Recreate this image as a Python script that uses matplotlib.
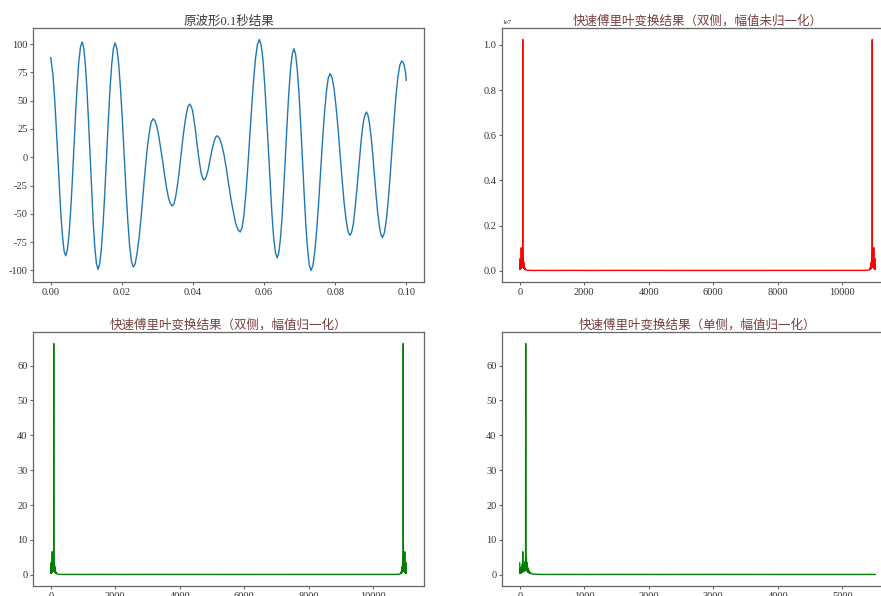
import matplotlib
matplotlib.use('Agg')
import matplotlib.pyplot as plt
from matplotlib.ticker import MultipleLocator
import numpy as np

plt.rcParams['font.family'] = ['Liberation Serif', 'Noto Sans CJK SC']
plt.rcParams['axes.unicode_minus'] = False
plt.rcParams['axes.edgecolor'] = '#666666'
plt.rcParams['axes.linewidth'] = 0.9
for ax_name in ('xtick', 'ytick'):
    plt.rcParams[f'{ax_name}.color'] = '#666666'
    plt.rcParams[f'{ax_name}.labelcolor'] = '#333333'
    plt.rcParams[f'{ax_name}.labelsize'] = 7.5
    plt.rcParams[f'{ax_name}.major.size'] = 2.5
    plt.rcParams[f'{ax_name}.major.pad'] = 1.5

FS = 11025          # sampling rate (Hz)
N_SAMPLES = 154350  # samples in the whole recording

# first 0.1 s of the waveform
WAVE_T = [
    0.0, 0.0006, 0.00105, 0.0015, 0.00195, 0.0024, 0.00285, 0.0033, 0.00375, 0.0042,
    0.00466, 0.00512, 0.00558, 0.00604, 0.0065, 0.00696, 0.00742, 0.00788, 0.00834, 0.0088,
    0.00925, 0.0097, 0.01015, 0.0106, 0.01105, 0.0115, 0.01195, 0.0124, 0.01285, 0.0133,
    0.01378, 0.01426, 0.01474, 0.01522, 0.0157, 0.01618, 0.01666, 0.01714, 0.01762, 0.0181,
    0.01861, 0.01912, 0.01963, 0.02014, 0.02065, 0.02116, 0.02167, 0.02218, 0.02269, 0.0232,
    0.02376, 0.02432, 0.02488, 0.02544, 0.026, 0.02656, 0.02712, 0.02768, 0.02824, 0.0288,
    0.02934, 0.02988, 0.03042, 0.03096, 0.0315, 0.03204, 0.03258, 0.03312, 0.03366, 0.0342,
    0.03469, 0.03518, 0.03567, 0.03616, 0.03665, 0.03714, 0.03763, 0.03812, 0.03861, 0.0391,
    0.0395, 0.0399, 0.0403, 0.0407, 0.0411, 0.0415, 0.0419, 0.0423, 0.0427, 0.0431,
    0.04347, 0.04384, 0.04421, 0.04458, 0.04495, 0.04532, 0.04569, 0.04606, 0.04643, 0.0468,
    0.04745, 0.0481, 0.04875, 0.0494, 0.05005, 0.0507, 0.05135, 0.052, 0.05265, 0.0533,
    0.05384, 0.05438, 0.05492, 0.05546, 0.056, 0.05654, 0.05708, 0.05762, 0.05816, 0.0587,
    0.0592, 0.0597, 0.0602, 0.0607, 0.0612, 0.0617, 0.0622, 0.0627, 0.0632, 0.0637,
    0.06417, 0.06464, 0.06511, 0.06558, 0.06605, 0.06652, 0.06699, 0.06746, 0.06793, 0.0684,
    0.06888, 0.06936, 0.06984, 0.07032, 0.0708, 0.07128, 0.07176, 0.07224, 0.07272, 0.0732,
    0.07374, 0.07428, 0.07482, 0.07536, 0.0759, 0.07644, 0.07698, 0.07752, 0.07806, 0.0786,
    0.07916, 0.07972, 0.08028, 0.08084, 0.0814, 0.08196, 0.08252, 0.08308, 0.08364, 0.0842,
    0.08466, 0.08512, 0.08558, 0.08604, 0.0865, 0.08696, 0.08742, 0.08788, 0.08834, 0.0888,
    0.08925, 0.0897, 0.09015, 0.0906, 0.09105, 0.0915, 0.09195, 0.0924, 0.09285, 0.0933,
    0.09384, 0.09438, 0.09492, 0.09546, 0.096, 0.09654, 0.09708, 0.09762, 0.09816, 0.0987,
    0.0991, 0.0995, 0.0998, 0.1,
]
WAVE_V = [
    88, 73, 54, 29, 2, -26, -51, -70, -83, -87,
    -82, -69, -48, -22, 8, 37, 63, 84, 97, 102,
    97, 83, 61, 33, 2, -30, -58, -80, -94, -99,
    -94, -80, -58, -30, 1, 32, 60, 82, 96, 101,
    96, 82, 60, 33, 2, -29, -56, -78, -92, -97,
    -94, -84, -70, -52, -31, -11, 7, 21, 31, 34,
    32, 27, 18, 7, -4, -16, -27, -36, -41, -43,
    -41, -34, -24, -12, 2, 16, 28, 38, 45, 47,
    45, 41, 33, 24, 13, 3, -6, -14, -18, -20,
    -19, -16, -12, -6, 0, 6, 11, 15, 18, 19,
    17, 11, 2, -10, -24, -37, -48, -58, -64, -66,
    -62, -50, -31, -7, 19, 45, 69, 88, 100, 104,
    99, 86, 64, 37, 8, -22, -49, -71, -84, -89,
    -84, -71, -51, -25, 4, 32, 58, 78, 91, 96,
    91, 77, 56, 28, -2, -32, -60, -81, -95, -100,
    -96, -83, -64, -40, -13, 14, 38, 57, 70, 74,
    70, 60, 44, 25, 2, -20, -40, -55, -66, -69,
    -66, -59, -46, -31, -14, 2, 18, 30, 37, 40,
    37, 29, 17, 2, -16, -33, -48, -60, -68, -71,
    -67, -56, -39, -17, 7, 31, 53, 70, 81, 85,
    84, 80, 75, 68,
]

# positive-frequency spectrum, magnitude divided by N
SPEC_F = [
    0, 2, 4, 7, 10, 13, 16, 19, 22, 25, 28, 31, 34, 37, 40, 43, 46, 49, 52, 55,
    58, 61, 64, 67, 70, 73, 76, 79, 82, 85, 88, 90, 92, 94, 96, 99, 102, 105, 108, 111,
    114, 117, 120, 124, 128, 132, 136, 140, 145, 150, 156, 163, 170, 180, 195, 215, 250, 320, 450, 700,
    1000, 1500, 2200, 3000, 4000, 5000, 5512,
]
SPEC_A = [
    3.4, 0.5, 1.6, 0.4, 1.9, 0.6, 1.3, 0.5, 2.0, 0.7, 1.5, 0.6, 2.3, 0.8, 3.0, 1.0, 6.6, 1.1, 2.8, 0.9,
    2.2, 1.0, 3.1, 1.2, 2.4, 1.0, 2.9, 1.3, 3.5, 1.5, 4.0, 1.8, 66.3, 2.0, 3.2, 1.4, 4.8, 1.5, 3.6, 1.2,
    2.9, 1.0, 2.3, 0.8, 1.8, 0.7, 1.4, 0.6, 1.1, 0.5, 0.8, 0.4, 0.5, 0.3, 0.25, 0.2, 0.15, 0.12, 0.1, 0.12,
    0.1, 0.12, 0.1, 0.12, 0.1, 0.1, 0.1,
]

TITLES = [
    '原波形0.1秒结果',
    '快速傅里叶变换结果（双侧，幅值未归一化）',
    '快速傅里叶变换结果（双侧，幅值归一化）',
    '快速傅里叶变换结果（单侧，幅值归一化）',
]
TITLE_COLORS = ['#3a3a3a', '#7a3e3e', '#7a3e3e', '#7a3e3e']

spec_f = np.array(SPEC_F, dtype=float)
spec_a = np.array(SPEC_A)
# two-sided spectrum: the negative half shows up mirrored at FS - f
two_f = np.concatenate([spec_f, FS - spec_f[::-1]])
two_a = np.concatenate([spec_a, spec_a[::-1]])

fig = plt.figure(figsize=(8.81, 5.96), dpi=100)
W, H = 881, 596
aw, ah = 391 / W, 254 / H
ax1 = fig.add_axes([33 / W, (H - 282) / H, aw, ah])
ax2 = fig.add_axes([502 / W, (H - 282) / H, aw, ah])
ax3 = fig.add_axes([33 / W, (H - 586) / H, aw, ah])
ax4 = fig.add_axes([502 / W, (H - 586) / H, aw, ah])

ax1.plot(WAVE_T, WAVE_V, color='#1f77b4', lw=1.0)
ax1.xaxis.set_major_locator(MultipleLocator(0.02))
ax1.yaxis.set_major_locator(MultipleLocator(25))

ax2.plot(two_f, two_a * N_SAMPLES, color='red', lw=1.0)
ax2.xaxis.set_major_locator(MultipleLocator(2000))
ax2.yaxis.set_major_locator(MultipleLocator(0.2e7))
ax2.yaxis.get_offset_text().set_fontsize(4.5)

ax3.plot(two_f, two_a, color='green', lw=1.0)
ax3.xaxis.set_major_locator(MultipleLocator(2000))
ax3.yaxis.set_major_locator(MultipleLocator(10))

ax4.plot(spec_f, spec_a, color='green', lw=1.0)
ax4.xaxis.set_major_locator(MultipleLocator(1000))
ax4.yaxis.set_major_locator(MultipleLocator(10))

for ax, title, c in zip([ax1, ax2, ax3, ax4], TITLES, TITLE_COLORS):
    ax.set_title(title, fontsize=9, color=c, pad=2)

fig.savefig('out.png', dpi=100)
